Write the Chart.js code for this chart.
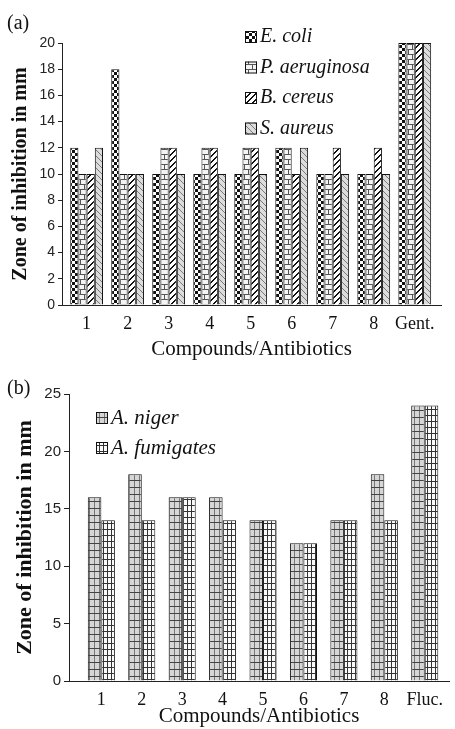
<!DOCTYPE html>
<html>
<head>
<meta charset="utf-8">
<script src="https://cdn.jsdelivr.net/npm/chart.js@4"></script>
<style>
  body { margin: 0; background: #fff; }
  .panel { position: relative; width: 455px; }
</style>
</head>
<body>
<div class="panel" style="height:362px"><canvas id="chartA"></canvas></div>
<div class="panel" style="height:367px"><canvas id="chartB"></canvas></div>
<script>
  // ======== dados ========
  const categoriesA = ['1', '2', '3', '4', '5', '6', '7', '8', 'Gent.'];
  const eColi = [12, 18, 10, 10, 10, 12, 10, 10, 20];
  const pAeruginosa = [10, 10, 12, 12, 12, 12, 10, 10, 20];
  const bCereus = [10, 10, 12, 12, 12, 10, 12, 12, 20];
  const sAureus = [12, 10, 10, 10, 10, 12, 10, 10, 20];
  const yTicksA = [0, 2, 4, 6, 8, 10, 12, 14, 16, 18, 20];

  const categoriesB = ['1', '2', '3', '4', '5', '6', '7', '8', 'Fluc.'];
  const aNiger = [16, 18, 16, 16, 14, 12, 14, 18, 24];
  const aFumigates = [14, 14, 16, 14, 14, 12, 14, 14, 24];
  const yTicksB = [0, 5, 10, 15, 20, 25];

  const serif = 'Liberation Serif';
  const sans = 'Liberation Sans';

  // ======== padrões de preenchimento ========
  function pattern(w, h, pix) {
    const c = document.createElement('canvas');
    c.width = w; c.height = h;
    const g = c.getContext('2d');
    for (let y = 0; y < h; y++) {
      for (let x = 0; x < w; x++) {
        g.fillStyle = pix(x, y);
        g.fillRect(x, y, 1, 1);
      }
    }
    return g.createPattern(c, 'repeat');
  }

  const patChecker = pattern(6, 6, (x, y) => ((Math.floor(x / 3) + Math.floor(y / 3)) % 2 ? '#fff' : '#111'));
  const patBrick = pattern(8, 10, (x, y) => {
    if (y === 4 || y === 9) return '#555';
    if (y < 4 && x === 0) return '#555';
    if (y > 4 && x === 4) return '#555';
    return '#f4f4f4';
  });
  const patStripe = pattern(6, 6, (x, y) => ((x + y) % 6 < 2 ? '#111' : '#fff'));
  const patLight = pattern(6, 6, (x, y) => ((x - y + 60) % 6 === 0 ? '#7a7a7a' : '#dcdcdc'));
  const patNiger = pattern(5, 7, (x, y) => (y === 6 ? '#444' : x === 4 ? '#777' : '#d6d6d6'));
  const patFumig = pattern(4, 6, (x, y) => (y === 5 || x === 3 ? '#333' : '#fafafa'));

  const toPoints = (arr) => arr.map((v, i) => ({ x: i, y: v }));

  // ======== rótulo do painel e legenda dentro da área ========
  const decor = {
    id: 'decor',
    afterDraw(chart, args, o) {
      const ctx = chart.ctx;
      ctx.save();
      ctx.fillStyle = '#111';
      ctx.textBaseline = 'middle';
      ctx.textAlign = 'left';
      ctx.font = '20px "' + serif + '"';
      ctx.fillText(o.tag, o.tagX, o.tagY);
      ctx.font = 'italic ' + o.legendSize + 'px "' + serif + '"';
      chart.data.datasets.forEach((ds, i) => {
        const y = o.legendY + i * o.legendStep;
        ctx.fillStyle = ds.backgroundColor;
        ctx.fillRect(o.legendX, y - 6, 12, 12);
        ctx.strokeStyle = '#111';
        ctx.lineWidth = 1;
        ctx.strokeRect(o.legendX + 0.5, y - 5.5, 11, 11);
        ctx.fillStyle = '#111';
        ctx.fillText(ds.label, o.legendX + 15, y);
      });
      ctx.restore();
    }
  };

  function makeOptions(cfg) {
    return {
      responsive: true,
      maintainAspectRatio: false,
      animation: false,
      layout: { padding: { top: cfg.top, right: cfg.right, left: 0, bottom: 0 } },
      plugins: {
        legend: { display: false },
        tooltip: { enabled: false },
        decor: cfg.decor
      },
      datasets: {
        bar: {
          categoryPercentage: cfg.catPct,
          barPercentage: 1,
          borderColor: '#111',
          borderWidth: 1
        }
      },
      scales: {
        x: {
          type: 'linear',
          min: cfg.xMin,
          max: cfg.xMax,
          offset: false,
          afterBuildTicks: (s) => { s.ticks = cfg.cats.map((_, i) => ({ value: i })); },
          afterFit: (s) => { s.height = cfg.xHeight; },
          grid: { display: false },
          border: { display: true, color: '#222', width: 1 },
          ticks: {
            callback: (v) => cfg.cats[v],
            color: '#111',
            padding: cfg.xPad,
            maxRotation: 0,
            autoSkip: false,
            font: { family: serif, size: 18 }
          },
          title: {
            display: true,
            text: 'Compounds/Antibiotics',
            color: '#111',
            padding: { top: 0, bottom: 0 },
            font: { family: serif, size: 21 }
          }
        },
        y: {
          min: 0,
          max: cfg.yMax,
          afterBuildTicks: (s) => { s.ticks = cfg.yTicks.map((v) => ({ value: v })); },
          afterFit: (s) => { s.width = cfg.yWidth; },
          grid: { display: true, drawOnChartArea: false, drawTicks: true, tickLength: cfg.tickLen, color: '#222' },
          border: { display: true, color: '#222', width: 1 },
          ticks: {
            color: '#222',
            padding: 3,
            font: { family: sans, size: cfg.yFont }
          },
          title: {
            display: true,
            text: 'Zone of inhibition in mm',
            color: '#111',
            padding: { top: cfg.titlePad, bottom: 0 },
            font: { family: serif, size: cfg.titleSize, weight: 'bold' }
          }
        }
      }
    };
  }

  // ======== Gráfico (a) bactérias ========
  new Chart(document.getElementById('chartA'), {
    type: 'bar',
    data: {
      datasets: [
        { label: 'E. coli', data: toPoints(eColi), backgroundColor: patChecker },
        { label: 'P. aeruginosa', data: toPoints(pAeruginosa), backgroundColor: patBrick },
        { label: 'B. cereus', data: toPoints(bCereus), backgroundColor: patStripe },
        { label: 'S. aureus', data: toPoints(sAureus), backgroundColor: patLight }
      ]
    },
    options: makeOptions({
      cats: categoriesA, yTicks: yTicksA, yMax: 20,
      top: 43, right: 14, xMin: -0.6, xMax: 8.64,
      xHeight: 57, xPad: 0, yWidth: 62, tickLen: 4, yFont: 14,
      titleSize: 20, titlePad: 9, catPct: 0.8,
      decor: { tag: '(a)', tagX: 7, tagY: 24, legendX: 245, legendY: 37, legendStep: 30.5, legendSize: 20 }
    }),
    plugins: [decor]
  });

  // ======== Gráfico (b) fungos ========
  new Chart(document.getElementById('chartB'), {
    type: 'bar',
    data: {
      datasets: [
        { label: 'A. niger', data: toPoints(aNiger), backgroundColor: patNiger },
        { label: 'A. fumigates', data: toPoints(aFumigates), backgroundColor: patFumig }
      ]
    },
    options: makeOptions({
      cats: categoriesB, yTicks: yTicksB, yMax: 25,
      top: 32, right: 6, xMin: -0.8, xMax: 8.6,
      xHeight: 48, xPad: 0, yWidth: 69, tickLen: 5, yFont: 15,
      titleSize: 22, titlePad: 12, catPct: 0.67,
      decor: { tag: '(b)', tagX: 7, tagY: 27, legendX: 96, legendY: 56, legendStep: 30, legendSize: 21 }
    }),
    plugins: [decor]
  });
</script>
</body>
</html>
